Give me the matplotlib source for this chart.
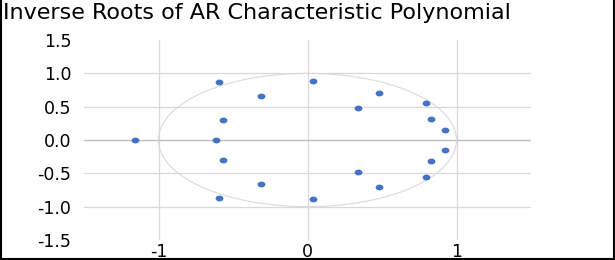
import numpy as np
import matplotlib
matplotlib.use("Agg")
import matplotlib.pyplot as plt
from matplotlib.lines import Line2D
from matplotlib.path import Path
from matplotlib.transforms import Affine2D

real_roots = [-1.156, -0.613]
pair_re = [-0.597, -0.315, -0.568, 0.040, 0.342, 0.481, 0.792, 0.830, 0.922]
pair_im = [0.873, 0.659, 0.296, 0.888, 0.478, 0.709, 0.555, 0.316, 0.147]

y_ticks = [-1.5, -1.0, -0.5, 0.0, 0.5, 1.0, 1.5]
x_ticks = [-1, 0, 1]

re = np.array(real_roots + pair_re + pair_re)
im = np.concatenate([np.zeros(len(real_roots)), pair_im, -np.array(pair_im)])

W, H = 615, 260
fig = plt.figure(figsize=(W / 100, H / 100), dpi=100)
ax = fig.add_axes([84 / W, 20 / H, (531 - 84) / W, 200 / H])

# unit circle
t = np.linspace(0, 2 * np.pi, 400)
ax.plot(np.cos(t), np.sin(t), color="#dadada", lw=0.8, zorder=2)

# markers in the picture are a bit wider than tall
flat_dot = Path.unit_circle().transformed(Affine2D().scale(1.45, 1.0))
ax.plot(re, im, ls="", marker=flat_dot, ms=4.6, color="#4472c4", mec="#4472c4", zorder=3)

ax.set_xlim(-1.5, 1.5)
ax.set_ylim(-1.5, 1.5)
for v in [-1, 0, 1]:
    ax.axvline(v, color="#d9d9d9", lw=0.9, zorder=1)
for v in [-1.0, -0.5, 0.5, 1.0]:
    ax.axhline(v, color="#d9d9d9", lw=0.9, zorder=1)
ax.axhline(0, color="#bfbfbf", lw=1.0, zorder=1)

for s in ax.spines.values():
    s.set_visible(False)
ax.set_xticks(x_ticks)
ax.set_xticklabels([str(v) for v in x_ticks])
ax.set_yticks(y_ticks)
ax.set_yticklabels([f"{v:.1f}" for v in y_ticks])
ax.tick_params(length=0, labelsize=12.5, colors="#000000")
ax.tick_params(axis="y", pad=9)
ax.tick_params(axis="x", pad=2)

fig.text(3 / W, 1 - 3 / H, "Inverse Roots of AR Characteristic Polynomial",
         ha="left", va="top", fontsize=16, color="#000000")

# chart frame
fig.add_artist(Line2D([0.5 / W, 0.5 / W], [0, 1], color="black", lw=1.5))
fig.add_artist(Line2D([613.5 / W, 613.5 / W], [0, 1], color="black", lw=1.5))
fig.add_artist(Line2D([0, 614 / W], [1.5 / H, 1.5 / H], color="black", lw=1.5))

fig.savefig("out.png", dpi=100)
